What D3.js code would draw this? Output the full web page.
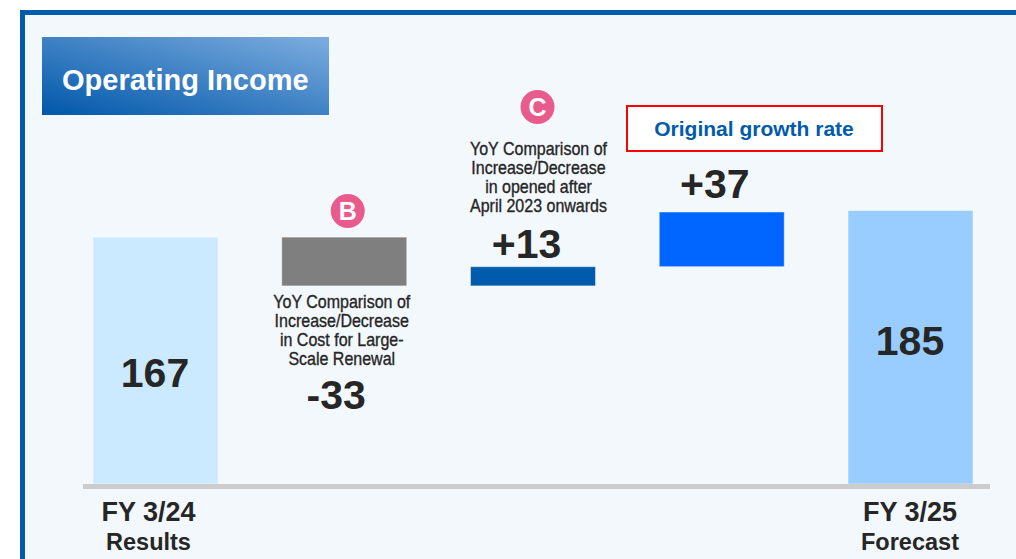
<!DOCTYPE html>
<html>
<head>
<meta charset="utf-8">
<script src="https://cdn.jsdelivr.net/npm/d3@7"></script>
<style>
  body { margin: 0; background: #ffffff; }
  text { font-family: "Liberation Sans", Arial, sans-serif; }
  .note { font-size: 18px; fill: #262626; stroke: #262626; stroke-width: 0.35px; }
</style>
</head>
<body>
<div id="chart"></div>
<script>
// chart values
let categories = ["FY 3/24", "B", "C", "growth", "FY 3/25"];
let deltas = [167, -33, 13, 37, 185];
let kinds = ["total", "step", "step", "step", "total"];
let valueLabels = ["167", "-33", "+13", "+37", "185"];
let axisLabels = [["FY 3/24", "Results"], [], [], [], ["FY 3/25", "Forecast"]];
let noteB = ["YoY Comparison of", "Increase/Decrease", "in Cost for Large-", "Scale Renewal"];
let noteC = ["YoY Comparison of", "Increase/Decrease", "in opened after", "April 2023 onwards"];

let svgWidth = 1016;
let svgHeight = 559;

let colors = ["#cceaff", "#7f7f7f", "#005bac", "#0066ff", "#99ccff"];

let svg = d3.select("#chart")
  .append("svg")
  .attr("width", svgWidth)
  .attr("height", svgHeight);

// gradient for the title box
let defs = svg.append("defs");
let grad = defs.append("linearGradient")
  .attr("id", "titleGrad")
  .attr("x1", "0%").attr("y1", "100%")
  .attr("x2", "100%").attr("y2", "0%");
grad.append("stop").attr("offset", "0%").attr("stop-color", "#0057aa");
grad.append("stop").attr("offset", "100%").attr("stop-color", "#7daddf");

// panel with blue frame
svg.append("rect")
  .attr("x", 20).attr("y", 10)
  .attr("width", svgWidth).attr("height", svgHeight)
  .attr("fill", "#005bac");
svg.append("rect")
  .attr("x", 25).attr("y", 15)
  .attr("width", svgWidth).attr("height", svgHeight)
  .attr("fill", "#f3f8fc");

// title
svg.append("rect")
  .attr("x", 42).attr("y", 37)
  .attr("width", 287).attr("height", 78)
  .attr("fill", "url(#titleGrad)");
svg.append("text")
  .attr("x", 62).attr("y", 90)
  .attr("fill", "#ffffff")
  .attr("font-size", 29)
  .attr("font-weight", "bold")
  .text("Operating Income");

// build waterfall rows
let running = 0;
let rows = categories.map((c, i) => {
  let row = { cat: c, kind: kinds[i], label: valueLabels[i], color: colors[i] };
  if (kinds[i] === "total") {
    row.y0 = 0;
    row.y1 = deltas[i];
    running = deltas[i];
  } else {
    row.y0 = running;
    running += deltas[i];
    row.y1 = running;
  }
  return row;
});

let x = d3.scaleBand()
  .domain(categories)
  .range([93, 973])
  .paddingInner(0.3377)
  .paddingOuter(0);

let y = d3.scaleLinear()
  .domain([0, 185])
  .range([484, 210.5]);

// bars
svg.selectAll("rect.bar")
  .data(rows)
  .join("rect")
  .attr("class", "bar")
  .attr("x", d => x(d.cat))
  .attr("y", d => y(Math.max(d.y0, d.y1)))
  .attr("width", x.bandwidth())
  .attr("height", d => Math.abs(y(d.y0) - y(d.y1)))
  .attr("fill", d => d.color)
  .attr("stroke", "rgba(255,255,255,0.45)")
  .attr("stroke-width", 1);

// baseline
svg.append("line")
  .attr("x1", 83).attr("x2", 990)
  .attr("y1", y(0) + 2.5).attr("y2", y(0) + 2.5)
  .attr("stroke", "#cccccc")
  .attr("stroke-width", 5);

// value labels (offsets relative to each bar)
let labelOffsets = [
  { dx: -0.5, y: d => y(d.y1 / 2) + 26 },
  { dx: -8, y: d => y(d.y1) + 123 },
  { dx: -6.5, y: d => y(d.y1) - 9 },
  { dx: -7, y: d => y(d.y1) - 14 },
  { dx: -0.5, y: d => y(d.y1) + 144 }
];

svg.selectAll("text.value")
  .data(rows)
  .join("text")
  .attr("class", "value")
  .attr("x", (d, i) => x(d.cat) + x.bandwidth() / 2 + labelOffsets[i].dx)
  .attr("y", (d, i) => labelOffsets[i].y(d))
  .attr("text-anchor", "middle")
  .attr("font-size", 41)
  .attr("font-weight", "bold")
  .attr("fill", "#262626")
  .text(d => d.label);

// category labels
rows.forEach((d, i) => {
  let cx = x(d.cat) + x.bandwidth() / 2 + (i === 0 ? -7 : -0.5);
  axisLabels[i].forEach((t, j) => {
    svg.append("text")
      .attr("x", cx)
      .attr("y", j === 0 ? 521 : 550)
      .attr("text-anchor", "middle")
      .attr("font-size", j === 0 ? 27 : 23.5)
      .attr("font-weight", "bold")
      .attr("fill", "#262626")
      .text(t);
  });
});

// circle markers and notes
function marker(cx, cy, letter) {
  svg.append("circle")
    .attr("cx", cx).attr("cy", cy).attr("r", 17)
    .attr("fill", "#ea5b8d");
  svg.append("text")
    .attr("x", cx).attr("y", cy + 9)
    .attr("text-anchor", "middle")
    .attr("font-size", 25)
    .attr("font-weight", "bold")
    .attr("fill", "#ffffff")
    .text(letter);
}

// narrow look: squeeze the regular face horizontally
function note(lines, cx, y0) {
  svg.append("g")
    .attr("transform", `translate(${cx},0) scale(0.89,1)`)
    .append("text")
    .attr("class", "note")
    .attr("text-anchor", "middle")
    .selectAll("tspan")
    .data(lines)
    .join("tspan")
    .attr("x", 0)
    .attr("y", (d, i) => y0 + i * 19)
    .text(d => d);
}

let bx = x("B") + x.bandwidth() / 2;
let cxC = x("C") + x.bandwidth() / 2;
marker(bx + 3.5, 211, "B");
note(noteB, bx - 2.5, 308);
marker(cxC + 4.5, 107, "C");
note(noteC, cxC + 5.5, 155);

// original growth rate box
svg.append("rect")
  .attr("x", 627).attr("y", 106)
  .attr("width", 255).attr("height", 45)
  .attr("fill", "#ffffff")
  .attr("stroke", "#ff0000")
  .attr("stroke-width", 2);
svg.append("text")
  .attr("x", 754).attr("y", 136)
  .attr("text-anchor", "middle")
  .attr("font-size", 21)
  .attr("font-weight", "bold")
  .attr("fill", "#005bac")
  .text("Original growth rate");
</script>
</body>
</html>
